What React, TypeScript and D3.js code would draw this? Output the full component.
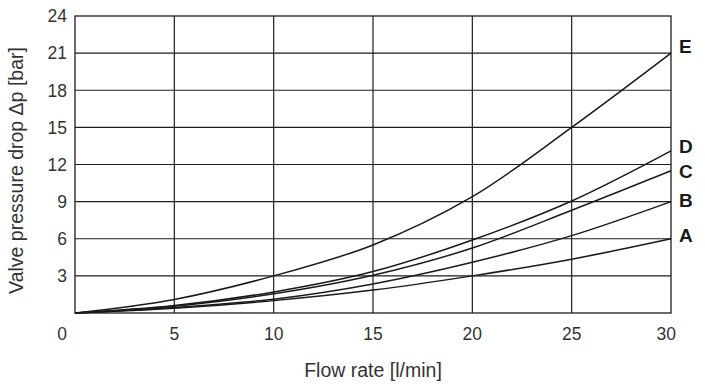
import React from "react";
import * as d3 from "d3";

const flowRates = [0, 5, 10, 15, 20, 25, 30];
const seriesA = [0, 0.38, 1.0, 1.85, 3.0, 4.35, 6.0];
const seriesB = [0, 0.45, 1.12, 2.35, 4.1, 6.25, 9.0];
const seriesC = [0, 0.55, 1.55, 3.05, 5.25, 8.3, 11.5];
const seriesD = [0, 0.6, 1.7, 3.35, 5.9, 9.05, 13.1];
const seriesE = [0, 1.1, 3.0, 5.5, 9.4, 15.0, 21.0];
const seriesNames = ["A", "B", "C", "D", "E"];
const xTicks = [0, 5, 10, 15, 20, 25, 30];
const yTicks = [3, 6, 9, 12, 15, 18, 21, 24];
const xTitle = "Flow rate [l/min]";
const yTitle = "Valve pressure drop Δp [bar]";

const labelDy: Record<string, number> = { A: -4, B: -1, C: 0, D: -5, E: -7 };

export default function App() {
  const W = 705, H = 388;
  const left = 75, right = 671, top = 16, bottom = 313;
  const x = d3.scaleLinear().domain([0, 30]).range([left, right]);
  const y = d3.scaleLinear().domain([0, 24]).range([bottom, top]);
  const all = [seriesA, seriesB, seriesC, seriesD, seriesE];
  const line = d3
    .line<[number, number]>()
    .x((d) => x(d[0]))
    .y((d) => y(d[1]))
    .curve(d3.curveCatmullRom.alpha(0.5));
  const grid = "#1e1e1e";
  const font = "'Liberation Sans', Arial, sans-serif";
  return (
    <svg width={W} height={H} style={{ position: "absolute", left: 0, top: 0, background: "#fff" }}>
      {xTicks.slice(1, -1).map((t) => (
        <line key={"gx" + t} x1={x(t)} x2={x(t)} y1={top} y2={bottom} stroke={grid} strokeWidth={1.2} />
      ))}
      {yTicks.slice(0, -1).map((t) => (
        <line key={"gy" + t} x1={left} x2={right} y1={y(t)} y2={y(t)} stroke={grid} strokeWidth={1.2} />
      ))}
      <rect x={left} y={top} width={right - left} height={bottom - top} fill="none" stroke={grid} strokeWidth={1.3} />
      {all.map((s, i) => (
        <path
          key={"s" + i}
          d={line(flowRates.map((q, j) => [q, s[j]] as [number, number])) || ""}
          fill="none"
          stroke="#1a1a1a"
          strokeWidth={1.5}
        />
      ))}
      {all.map((s, i) => (
        <text
          key={"l" + i}
          x={right + 8}
          y={y(s[s.length - 1]) + labelDy[seriesNames[i]]}
          dy="0.36em"
          fontFamily={font}
          fontWeight="bold"
          fontSize={19}
          fill="#1a1a1a"
        >
          {seriesNames[i]}
        </text>
      ))}
      {yTicks.map((t) => (
        <text key={"yt" + t} x={67} y={y(t)} dy="0.36em" textAnchor="end" fontFamily={font} fontSize={17.5} fill="#333">
          {t}
        </text>
      ))}
      {xTicks.map((t, i) => {
        const isFirst = i === 0;
        const isLast = i === xTicks.length - 1;
        const px = isFirst ? left - 8 : isLast ? x(t) + 5 : x(t);
        const anchor = isFirst || isLast ? "end" : "middle";
        return (
          <text key={"xt" + t} x={px} y={340} textAnchor={anchor} fontFamily={font} fontSize={17.5} fill="#333">
            {t}
          </text>
        );
      })}
      <text x={x(15)} y={377} textAnchor="middle" fontFamily={font} fontSize={19.5} fill="#333">
        {xTitle}
      </text>
      <text
        transform={`translate(23,${(top + bottom) / 2 + 6}) rotate(-90)`}
        textAnchor="middle"
        fontFamily={font}
        fontSize={19.5}
        fill="#333"
      >
        {yTitle}
      </text>
    </svg>
  );
}
